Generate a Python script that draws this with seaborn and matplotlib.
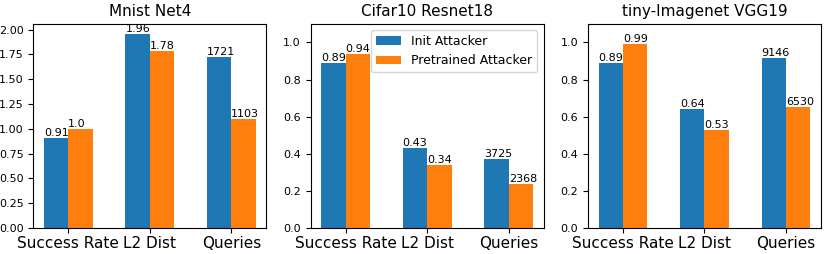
import pandas as pd
import matplotlib
matplotlib.use('Agg')
import matplotlib.pyplot as plt
import seaborn as sns

# === DONNEES ===
METRIQUES = ["Success Rate", "L2 Dist", "Queries"]
ATTAQUES = ["Init Attacker", "Pretrained Attacker"]
TITRES = ["Mnist Net4", "Cifar10 Resnet18", "tiny-Imagenet VGG19"]

mnist_init = [0.91, 1.96, 1721]
mnist_pre = [1.0, 1.78, 1103]
cifar_init = [0.89, 0.43, 3725]
cifar_pre = [0.94, 0.34, 2368]
tiny_init = [0.89, 0.64, 9146]
tiny_pre = [0.99, 0.53, 6530]

# facteur d'échelle des requêtes pour chaque panneau
ECHELLE_QUERIES = [1000, 10000, 10000]
YMAX = [None, 1.1, 1.1]

COULEURS = ["#1f77b4", "#ff7f0e"]


def construire_df(init, pre, echelle):
    lignes = []
    for attaque, vals in zip(ATTAQUES, [init, pre]):
        for m, v in zip(METRIQUES, vals):
            h = v / echelle if m == "Queries" else v
            lab = f"{v}" if m != "Queries" else f"{int(v)}"
            lignes.append({"metrique": m, "attaque": attaque, "valeur": h, "label": lab})
    return pd.DataFrame(lignes)


fig, axes = plt.subplots(1, 3, figsize=(8.31, 2.54), dpi=100)
fig.subplots_adjust(left=0.040, right=0.988, top=0.906, bottom=0.102, wspace=0.19)

donnees = [(mnist_init, mnist_pre), (cifar_init, cifar_pre), (tiny_init, tiny_pre)]

for i, (ax, (init, pre)) in enumerate(zip(axes, donnees)):
    df = construire_df(init, pre, ECHELLE_QUERIES[i])
    sns.barplot(data=df, x="metrique", y="valeur", hue="attaque", order=METRIQUES,
                hue_order=ATTAQUES, palette=COULEURS, saturation=1, width=0.6,
                ax=ax, legend=(i == 1))
    for k, cont in enumerate(ax.containers):
        sous = df[df["attaque"] == ATTAQUES[k]]
        for bar, lab in zip(cont, sous["label"]):
            ax.text(bar.get_x(), bar.get_height(), lab, ha="left", va="bottom", fontsize=8)
    ax.set_title(TITRES[i], fontsize=11)
    ax.set_xlabel("")
    ax.set_ylabel("")
    ax.set_xlim(-0.43, 2.43)
    if YMAX[i] is not None:
        ax.set_ylim(0, YMAX[i])
    ax.tick_params(axis="x", labelsize=11, pad=2)
    ax.tick_params(axis="y", labelsize=8)
    if i == 1:
        ax.legend(loc="upper right", fontsize=9)

plt.savefig("out.png", dpi=100)
plt.close()
